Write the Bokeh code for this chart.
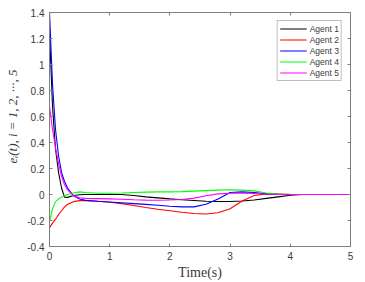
from bokeh.plotting import figure
from bokeh.models import Range1d, FixedTicker, LinearAxis, Legend, LegendItem
from bokeh.embed import file_html
from bokeh.resources import INLINE

# ---- data ----
t = [0, 0.05, 0.1, 0.15, 0.2, 0.25, 0.3, 0.4, 0.5, 0.6, 0.8, 1.0, 1.2, 1.4, 1.6,
     1.8, 2.0, 2.2, 2.4, 2.6, 2.8, 3.0, 3.2, 3.4, 3.6, 3.8, 4.0, 4.2, 4.5, 5.0]
agent1 = [1.25, 0.68, 0.35, 0.17, 0.05, -0.02, -0.022, -0.008, -0.002, 0.0, 0.0, 0.0, 0.0,
          -0.008, -0.018, -0.026, -0.034, -0.04, -0.046, -0.052, -0.054, -0.054, -0.05,
          -0.042, -0.03, -0.018, -0.006, 0.0, 0.0, 0.0]
agent2 = [-0.255, -0.22, -0.19, -0.155, -0.125, -0.095, -0.075, -0.055, -0.047, -0.047,
          -0.052, -0.06, -0.07, -0.085, -0.1, -0.113, -0.125, -0.137, -0.146, -0.15,
          -0.14, -0.11, -0.05, -0.008, 0.005, 0.003, 0.0, 0.0, 0.0, 0.0]
agent3 = [1.4, 0.85, 0.5, 0.3, 0.17, 0.1, 0.05, -0.01, -0.035, -0.045, -0.052, -0.058,
          -0.064, -0.07, -0.076, -0.083, -0.09, -0.095, -0.095, -0.075, -0.035, 0.015,
          0.02, 0.015, 0.005, 0.002, 0.0, 0.0, 0.0, 0.0]
agent4 = [-0.21, -0.11, -0.055, -0.035, -0.02, -0.01, 0.0, 0.012, 0.02, 0.015, 0.01, 0.01,
          0.012, 0.015, 0.018, 0.02, 0.02, 0.022, 0.026, 0.03, 0.034, 0.036, 0.034, 0.028,
          0.012, 0.003, 0.001, 0.0, 0.0, 0.0]
agent5 = [0.68, 0.5, 0.36, 0.24, 0.14, 0.075, 0.035, -0.01, -0.025, -0.03, -0.032, -0.034,
          -0.036, -0.04, -0.043, -0.044, -0.042, -0.038, -0.028, -0.01, 0.005, 0.01, 0.01,
          0.008, 0.004, 0.002, 0.0, 0.0, 0.0, 0.0]
series_names = ["Agent 1", "Agent 2", "Agent 3", "Agent 4", "Agent 5"]
series_colors = ["#000000", "#ff0000", "#0000ff", "#00ff00", "#ff00ff"]

x_ticks = [0, 1, 2, 3, 4, 5]
x_tick_labels = ["0", "1", "2", "3", "4", "5"]
y_ticks = [-0.4, -0.2, 0, 0.2, 0.4, 0.6, 0.8, 1.0, 1.2, 1.4]
y_tick_labels = ["-0.4", "-0.2", "0", "0.2", "0.4", "0.6", "0.8", "1", "1.2", "1.4"]

AX = "#808080"
TXT = "#3a3a3a"

p = figure(width=365, height=282, output_backend="svg", toolbar_location=None,
           x_range=Range1d(0, 5), y_range=Range1d(-0.4, 1.4),
           min_border_left=49, min_border_right=15, min_border_top=12, min_border_bottom=35)
p.background_fill_color = "white"
p.border_fill_color = "white"
p.outline_line_color = AX
p.xgrid.visible = False
p.ygrid.visible = False

renderers = []
for ys, c in zip([agent1, agent2, agent3, agent4, agent5], series_colors):
    r = p.line(t, ys, line_color=c, line_width=1.1)
    renderers.append(r)

def style_axis(ax, ticks, labels, show_labels=True):
    ax.ticker = FixedTicker(ticks=ticks)
    ax.axis_line_color = AX
    ax.major_tick_line_color = AX
    ax.major_tick_in = 3
    ax.major_tick_out = 0
    ax.minor_tick_line_color = None
    if show_labels:
        ax.major_label_overrides = {v: s for v, s in zip(ticks, labels)}
        ax.major_label_text_font = "Liberation Sans"
        ax.major_label_text_font_size = "10px"
        ax.major_label_text_color = TXT
    else:
        ax.major_label_text_color = None
        ax.major_label_standoff = 0

style_axis(p.xaxis[0], x_ticks, x_tick_labels)
style_axis(p.yaxis[0], y_ticks, y_tick_labels)
p.xaxis[0].major_label_standoff = 5
p.yaxis[0].major_label_standoff = 5

p.xaxis[0].axis_label = "Time(s)"
p.xaxis[0].axis_label_text_font = "Liberation Serif"
p.xaxis[0].axis_label_text_font_style = "normal"
p.xaxis[0].axis_label_text_font_size = "14px"
p.xaxis[0].axis_label_text_color = TXT
p.xaxis[0].axis_label_standoff = 2

# en spaces at the start lift the visible label a little, as in the reference
p.yaxis[0].axis_label = "\u2002\u2002\u2002\u2002e\u1d62(t), i = 1, 2, \u00b7\u00b7\u00b7, 5"
p.yaxis[0].axis_label_text_font = "Liberation Serif"
p.yaxis[0].axis_label_text_font_style = "italic"
p.yaxis[0].axis_label_text_font_size = "13px"
p.yaxis[0].axis_label_text_color = TXT
p.yaxis[0].axis_label_standoff = 4

right = LinearAxis()
style_axis(right, y_ticks, y_tick_labels, show_labels=False)
p.add_layout(right, "right")
top = LinearAxis()
style_axis(top, x_ticks, x_tick_labels, show_labels=False)
p.add_layout(top, "above")

legend = Legend(items=[LegendItem(label=n, renderers=[r]) for n, r in zip(series_names, renderers)],
                location="top_right")
legend.label_text_font = "Liberation Sans"
legend.label_text_font_size = "8.5px"
legend.label_text_color = TXT
legend.glyph_width = 27
legend.glyph_height = 11
legend.label_height = 11
legend.label_standoff = 3
legend.spacing = 0
legend.padding = 2
legend.margin = 8
legend.border_line_color = AX
legend.border_line_width = 1
legend.background_fill_color = "white"
legend.background_fill_alpha = 1
p.add_layout(legend, "center")

open("out.html", "w").write(file_html(p, INLINE))
